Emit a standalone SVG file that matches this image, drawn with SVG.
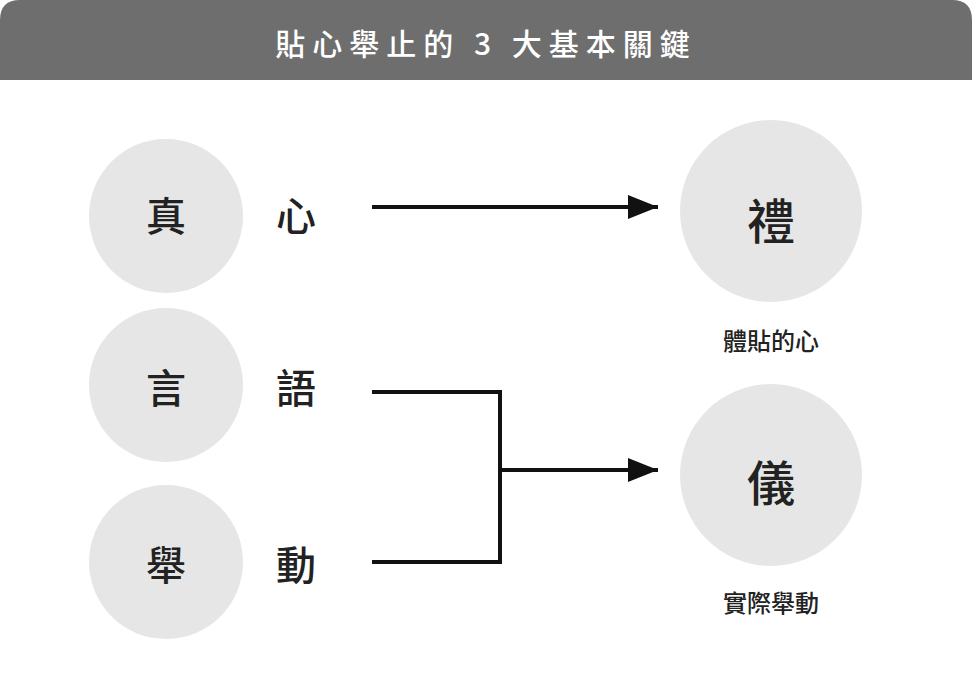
<svg xmlns="http://www.w3.org/2000/svg" width="972" height="675" viewBox="0 0 972 675">
<style>
text{font-family:"Noto Sans CJK TC","Noto Sans CJK SC",sans-serif;fill:#222;text-anchor:middle;dominant-baseline:central}
.big{font-size:40px;font-weight:500}
.sub{font-size:24px;font-weight:500}
.c{fill:#e6e6e6}
.ln{stroke:#111;stroke-width:4;fill:none}
</style>
<defs><marker id="a" viewBox="0 0 30 24" refX="30" refY="12" markerWidth="30" markerHeight="24" markerUnits="userSpaceOnUse" orient="auto"><path d="M0,0 L30,12 L0,24z" fill="#111"/></marker></defs>
<rect width="972" height="675" fill="#fff"/>
<g id="header"><path d="M0,80 V20 Q0,0 20,0 H952 Q972,0 972,20 V80z" fill="#6e6e6e"/>
<text x="486" y="42" style="fill:#fff;font-size:30px;font-weight:500;letter-spacing:7px">貼心舉止的 3 大基本關鍵</text></g>
<g id="n1"><circle class="c" cx="166" cy="216" r="77"/><text class="big" x="166" y="214">真</text><text class="big" x="296" y="214">心</text></g>
<g id="n2"><circle class="c" cx="166" cy="385" r="77"/><text class="big" x="166" y="386">言</text><text class="big" x="296" y="386">語</text></g>
<g id="n3"><circle class="c" cx="166" cy="562" r="77"/><text class="big" x="166" y="563">舉</text><text class="big" x="296" y="563">動</text></g>
<g id="li"><circle class="c" cx="771" cy="211" r="91"/><text class="big" x="771" y="218" style="font-size:48px">禮</text><text class="sub" x="771" y="339">體貼的心</text></g>
<g id="yi"><circle class="c" cx="771" cy="475" r="91"/><text class="big" x="771" y="480" style="font-size:48px">儀</text><text class="sub" x="771" y="601">實際舉動</text></g>
<g id="connectors">
<path class="ln" d="M372,207 H658" marker-end="url(#a)"/>
<path class="ln" d="M372,392 H500 V562 H372"/>
<path class="ln" d="M500,470 H658" marker-end="url(#a)"/>
</g>
</svg>
